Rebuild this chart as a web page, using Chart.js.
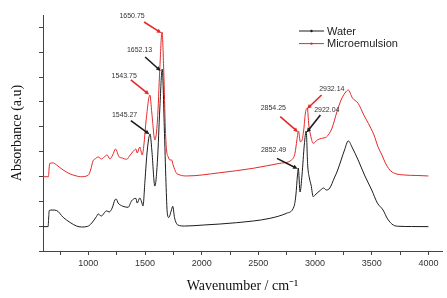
<!DOCTYPE html>
<html>
<head>
<meta charset="utf-8">
<script src="https://cdn.jsdelivr.net/npm/chart.js@4"></script>
<style>
  html, body { margin: 0; padding: 0; background: #fff; overflow: hidden; }
  canvas { display: block; }
</style>
</head>
<body>
<canvas id="ftir-chart" width="447" height="298"></canvas>
<script>
// wavenumber (cm-1) and absorbance (arbitrary units, offset)
const waterWavenumbers = [600, 645, 650, 655, 680, 720, 778, 840, 896, 940, 995, 1030, 1072, 1087, 1100, 1116, 1140, 1160, 1184, 1210, 1234, 1245, 1263, 1300, 1351, 1381, 1400, 1419, 1431, 1454, 1470, 1482, 1500, 1520, 1545, 1560, 1587, 1610, 1630, 1652, 1670, 1685, 1697, 1710, 1730, 1745, 1760, 1790, 1850, 2013, 2308, 2602, 2749, 2814, 2831, 2845, 2852, 2868, 2885, 2905, 2922, 2935, 2950, 2965, 2984, 3000, 3050, 3075, 3100, 3130, 3170, 3200, 3230, 3260, 3293, 3330, 3380, 3440, 3500, 3550, 3600, 3640, 3690, 3740, 3850, 4000];
const waterAbsorbance = [1.96, 1.96, 2.66, 3.26, 3.30, 3.26, 2.71, 2.29, 2.01, 1.93, 1.99, 2.25, 2.78, 2.98, 2.90, 2.82, 3.06, 3.24, 3.14, 3.46, 4.11, 4.19, 3.86, 3.62, 3.52, 4.03, 4.19, 4.24, 3.86, 4.27, 3.95, 3.62, 5.72, 8.13, 9.42, 8.13, 5.23, 7.33, 11.35, 14.65, 10.0, 5.5, 3.0, 2.7, 3.2, 3.6, 2.7, 2.09, 2.01, 2.09, 2.28, 2.63, 3.04, 3.57, 4.51, 6.12, 6.68, 4.75, 6.12, 8.53, 9.66, 6.92, 5.88, 5.31, 4.37, 4.51, 4.91, 5.07, 4.91, 5.07, 5.88, 6.52, 7.33, 8.13, 8.86, 8.29, 7.33, 6.04, 4.91, 3.86, 3.30, 2.58, 2.09, 1.99, 1.97, 1.96];

const microWavenumbers = [600, 648, 654, 660, 690, 720, 778, 840, 896, 930, 998, 1020, 1042, 1060, 1087, 1116, 1140, 1166, 1190, 1215, 1240, 1272, 1300, 1337, 1370, 1396, 1419, 1431, 1454, 1475, 1490, 1510, 1543, 1560, 1587, 1610, 1630, 1650, 1665, 1680, 1690, 1705, 1719, 1735, 1748, 1775, 1808, 1867, 2160, 2455, 2690, 2793, 2823, 2840, 2854, 2870, 2882, 2900, 2915, 2932, 2945, 2960, 2984, 3020, 3058, 3100, 3150, 3190, 3230, 3264, 3293, 3330, 3380, 3430, 3470, 3520, 3555, 3590, 3620, 3660, 3700, 3785, 3900, 4000];
const microAbsorbance = [5.98, 5.98, 6.68, 7.06, 7.09, 6.92, 6.52, 6.20, 6.04, 5.98, 6.09, 6.52, 7.27, 7.41, 7.57, 7.41, 7.57, 7.73, 7.41, 7.73, 8.21, 7.57, 7.49, 7.38, 7.73, 8.03, 8.21, 7.89, 8.37, 7.73, 8.53, 10.55, 12.56, 11.11, 8.94, 10.55, 14.57, 17.63, 14.57, 9.74, 8.13, 7.57, 7.33, 7.33, 6.92, 6.30, 6.12, 6.04, 6.30, 6.66, 7.06, 7.33, 7.87, 8.94, 9.66, 8.80, 8.85, 9.74, 11.11, 11.51, 10.14, 9.34, 8.67, 8.94, 9.07, 9.18, 9.90, 11.11, 12.16, 12.72, 12.96, 12.32, 11.89, 10.95, 10.28, 9.34, 8.40, 7.73, 7.09, 6.52, 6.26, 6.12, 6.08, 6.04];

const seriesNames = ['Water', 'Microemulsion'];
const seriesColors = ['#1c1c1c', 'rgb(228,40,40)'];

// tick marks on the wavenumber axis; only multiples of 500 get a label
const xTickValues = [750, 1000, 1250, 1500, 1750, 2000, 2250, 2500, 2750, 3000, 3250, 3500, 3750, 4000];

// peak labels: text, label anchor, arrow start, arrow tip (data units)
const peakNotes = [
    { text: '1650.75', series: 1, at: [1386, 18.92], from: [1492, 18.44], to: [1644, 17.55] },
    { text: '1652.13', series: 0, at: [1452, 16.18], from: [1501, 15.62], to: [1638, 14.50] },
    { text: '1543.75', series: 1, at: [1316, 14.09], from: [1375, 13.77], to: [1537, 12.60] },
    { text: '1545.27', series: 0, at: [1320, 10.95], from: [1375, 10.49], to: [1539, 9.40] },
    { text: '2854.25', series: 1, at: [2632, 11.51], from: [2693, 10.81], to: [2850, 9.58] },
    { text: '2932.14', series: 1, at: [3148, 13.02], from: [3058, 12.56], to: [2930, 11.45] },
    { text: '2922.04', series: 0, at: [3104, 11.35], from: [3047, 10.95], to: [2926, 9.55] },
    { text: '2852.49', series: 0, at: [2634, 8.13], from: [2664, 7.46], to: [2846, 6.62] },
];

function toPoints(xs, ys) {
    return xs.map((x, i) => ({ x: x, y: ys[i] }));
}

const peakNotesPlugin = {
    id: 'peakNotes',
    afterDatasetsDraw(chart) {
        const ctx = chart.ctx;
        const xs = chart.scales.x, ys = chart.scales.y;
        ctx.save();
        peakNotes.forEach(n => {
            const col = seriesColors[n.series];
            const x0 = xs.getPixelForValue(n.from[0]), y0 = ys.getPixelForValue(n.from[1]);
            const x1 = xs.getPixelForValue(n.to[0]), y1 = ys.getPixelForValue(n.to[1]);
            const ang = Math.atan2(y1 - y0, x1 - x0);
            const head = 5;
            ctx.strokeStyle = col;
            ctx.fillStyle = col;
            ctx.lineWidth = 1.6;
            ctx.beginPath();
            ctx.moveTo(x0, y0);
            ctx.lineTo(x1 - Math.cos(ang) * head * 0.8, y1 - Math.sin(ang) * head * 0.8);
            ctx.stroke();
            ctx.beginPath();
            ctx.moveTo(x1, y1);
            ctx.lineTo(x1 - head * Math.cos(ang - 0.45), y1 - head * Math.sin(ang - 0.45));
            ctx.lineTo(x1 - head * Math.cos(ang + 0.45), y1 - head * Math.sin(ang + 0.45));
            ctx.closePath();
            ctx.fill();

            ctx.fillStyle = '#333';
            ctx.font = '7px "Liberation Sans", Arial, sans-serif';
            ctx.textAlign = 'center';
            ctx.textBaseline = 'middle';
            ctx.fillText(n.text, xs.getPixelForValue(n.at[0]), ys.getPixelForValue(n.at[1]));
        });
        ctx.restore();
    }
};

const sideLegendPlugin = {
    id: 'sideLegend',
    afterDraw(chart) {
        const ctx = chart.ctx;
        ctx.save();
        chart.data.datasets.forEach((ds, i) => {
            const y = 31 + i * 12.6;
            ctx.strokeStyle = ds.borderColor;
            ctx.lineWidth = 1;
            ctx.beginPath();
            ctx.moveTo(299, y);
            ctx.lineTo(324, y);
            ctx.stroke();
            ctx.fillStyle = ds.borderColor;
            ctx.beginPath();
            ctx.arc(311.5, y, 1.2, 0, Math.PI * 2);
            ctx.fill();
            ctx.fillStyle = '#222';
            ctx.font = '11px "Liberation Sans", Arial, sans-serif';
            ctx.textAlign = 'left';
            ctx.textBaseline = 'middle';
            ctx.fillText(ds.label, 327, y + 0.5);
        });
        ctx.restore();
    }
};

const ctx = document.getElementById('ftir-chart').getContext('2d');
const ftirChart = new Chart(ctx, {
    type: 'line',
    data: {
        datasets: [
            {
                label: seriesNames[0],
                data: toPoints(waterWavenumbers, waterAbsorbance),
                borderColor: seriesColors[0],
                backgroundColor: seriesColors[0],
                borderWidth: 1,
                pointRadius: 0,
                cubicInterpolationMode: 'monotone',
            },
            {
                label: seriesNames[1],
                data: toPoints(microWavenumbers, microAbsorbance),
                borderColor: seriesColors[1],
                backgroundColor: seriesColors[1],
                borderWidth: 1,
                pointRadius: 0,
                cubicInterpolationMode: 'monotone',
            },
        ]
    },
    options: {
        responsive: false,
        animation: false,
        maintainAspectRatio: false,
        devicePixelRatio: 1,
        layout: { padding: { top: 15, right: 5, left: 0, bottom: 0 } },
        plugins: {
            legend: { display: false },
            tooltip: { enabled: false },
        },
        scales: {
            x: {
                type: 'linear',
                min: 600,
                max: 4120,
                afterBuildTicks: s => { s.ticks = xTickValues.map(v => ({ value: v })); },
                afterFit: s => { s.height = 47; },
                border: { display: true, color: '#444', width: 1 },
                grid: { display: true, drawOnChartArea: false, drawTicks: true, tickLength: 4, color: '#444' },
                ticks: {
                    autoSkip: false,
                    maxRotation: 0,
                    padding: 3,
                    color: '#333',
                    font: { family: '"Liberation Sans", Arial, sans-serif', size: 9 },
                    callback: v => (v % 500 === 0 ? String(v) : ''),
                },
                title: {
                    display: true,
                    text: 'Wavenumber / cm\u207B\u00B9',
                    color: '#111',
                    font: { family: '"Liberation Serif", "Times New Roman", serif', size: 14 },
                    padding: { top: 0, bottom: 3 },
                },
            },
            y: {
                min: 0,
                max: 19,
                afterFit: s => { s.width = 43; },
                border: { display: true, color: '#444', width: 1 },
                grid: { display: true, drawOnChartArea: false, drawTicks: true, tickLength: 4, color: '#444' },
                ticks: {
                    stepSize: 1,
                    callback: () => '',
                },
                title: {
                    display: true,
                    text: 'Absorbance (a.u)',
                    color: '#111',
                    font: { family: '"Liberation Serif", "Times New Roman", serif', size: 14 },
                    padding: { top: 9, bottom: 0 },
                },
            },
        },
    },
    plugins: [peakNotesPlugin, sideLegendPlugin],
});
</script>
</body>
</html>
